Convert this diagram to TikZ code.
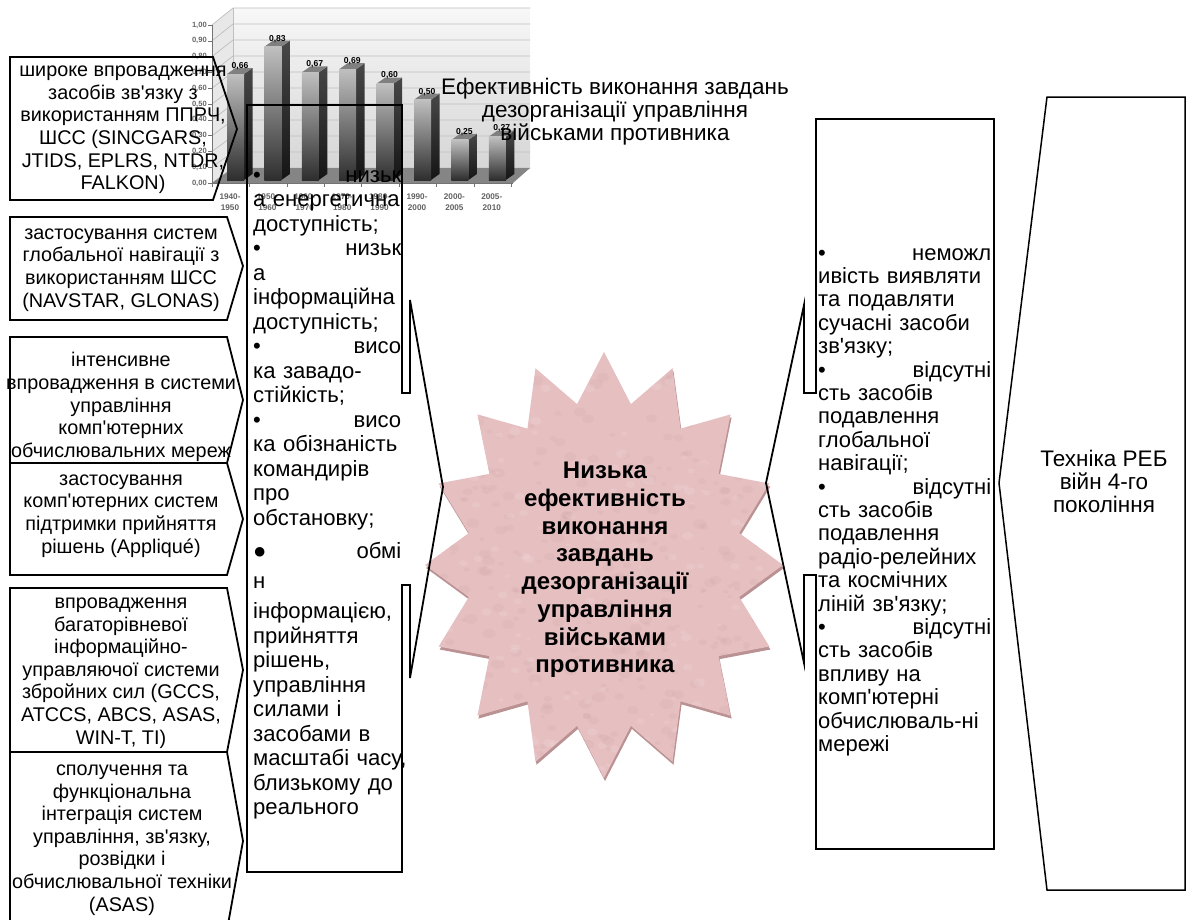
\documentclass[tikz,border=0pt]{standalone}
\usepackage{fontspec}
\setmainfont{Liberation Sans}
\newcommand\apos{\textquotesingle}
\setlength{\parindent}{0pt}
\hyphenpenalty=10000
\definecolor{starpink}{RGB}{230,191,193}
\definecolor{starshade}{RGB}{186,146,148}
\definecolor{starspot}{RGB}{196,154,158}
\begin{document}
\begin{tikzpicture}[x=1pt,y=-1pt,
  box/.style={draw=black, line width=1.8pt, line join=miter},
  thinbox/.style={draw=black, line width=1.5pt, line join=miter},
  boxtext/.style={align=center, font=\fontsize{19.8}{22.6}\selectfont, inner sep=0pt},
  coltext/.style={align=left, inner sep=0pt, anchor=north west},
  gridc/.style={draw=black!25, line width=0.7pt},
  ylab/.style={font=\bfseries\fontsize{7.6}{7.6}\selectfont, text=black!60, anchor=east, inner sep=0pt},
  xlab/.style={font=\bfseries\fontsize{8.2}{11}\selectfont, text=black!62, align=center, inner sep=0pt},
  vlab/.style={font=\bfseries\fontsize{8.6}{9}\selectfont, inner sep=0pt},
]
\useasboundingbox (0,0) rectangle (1192,919);
\clip (0,0) rectangle (1192,919);

% ---------- bar chart ----------
\shade[top color=black!3, bottom color=black!16] (233,8) rectangle (530,168);
\fill[black!9] (212,25) -- (233,8) -- (233,168) -- (212,183) -- cycle;
\foreach \k/\lab in {0/{0,00},1/{0,10},2/{0,20},3/{0,30},4/{0,40},5/{0,50},6/{0,60},7/{0,70},8/{0,80},9/{0,90},10/{1,00}} {
  \draw[gridc] (212,{183-15.8*\k}) -- (233,{168-16*\k}) -- (530,{168-16*\k});
  \draw[black!55] (208,{183-15.8*\k}) -- (212,{183-15.8*\k});
  \node[ylab] (yl\k) at (207,{183-15.8*\k}) {\lab};
}
\draw[gridc] (233,8) -- (233,168);
\fill[black!48] (212,183) -- (233,168) -- (530,168) -- (513,183) -- cycle;
\draw[black!55] (212,25) -- (212,183) -- (513,183);
\foreach \k in {0,...,8} \draw[black!55] ({212+37.4*\k},183) -- ({212+37.4*\k},187);
\foreach \i/\v/\lab/\ya/\yb in {0/0.66/{0,66}/1940/1950, 1/0.83/{0,83}/1950/1960, 2/0.67/{0,67}/1960/1970, 3/0.69/{0,69}/1970/1980, 4/0.60/{0,60}/1980/1990, 5/0.50/{0,50}/1990/2000, 6/0.25/{0,25}/2000/2005, 7/0.27/{0,27}/2005/2010} {
  \pgfmathsetmacro\xa{227+37.4*\i}
  \pgfmathsetmacro\xb{\xa+17}
  \pgfmathsetmacro\yt{180-160.6*\v}
  \shade[top color=black!72, bottom color=black!92] (\xb,180) -- (\xb,\yt) -- (\xb+8.5,\yt-6) -- (\xb+8.5,174) -- cycle;
  \fill[black!50] (\xa,\yt) -- (\xa+8.5,\yt-6) -- (\xb+8.5,\yt-6) -- (\xb,\yt) -- cycle;
  \shade[top color=black!25, bottom color=black!82] (\xa,\yt) rectangle (\xb,180);
  \node[vlab] (bv\i) at (\xa+13,\yt-8) {\lab};
  \node[xlab] (cl\i) at ({230+37.4*\i},202.5) {\ya-\\\yb};
}

% ---------- star ----------
\fill[starshade] ({604+1},{352+3})
  \foreach \k in {1,...,31} { -- ({604+1+179*(1-0.23*mod(\k,2))*cos(90+11.25*\k)}, {565+3-213*(1-0.23*mod(\k,2))*sin(90+11.25*\k)}) } -- cycle;
\begin{scope}
  \clip (604,352)
    \foreach \k in {1,...,31} { -- ({604+179*(1-0.23*mod(\k,2))*cos(90+11.25*\k)}, {565-213*(1-0.23*mod(\k,2))*sin(90+11.25*\k)}) } -- cycle;
  \fill[starpink] (420,340) rectangle (790,790);
  % fine mottled surface
  \pgfmathsetseed{17}
  \foreach \n in {1,...,420} {
    \pgfmathsetmacro\px{425+360*rnd}
    \pgfmathsetmacro\py{350+430*rnd}
    \pgfmathsetmacro\pr{2+5*rnd}
    \fill[starspot, opacity=0.13] (\px,\py) ellipse ({\pr} and {0.7*\pr});
  }
  \foreach \n in {1,...,200} {
    \pgfmathsetmacro\px{425+360*rnd}
    \pgfmathsetmacro\py{350+430*rnd}
    \pgfmathsetmacro\pr{2+4*rnd}
    \fill[white, opacity=0.10] (\px,\py) ellipse ({\pr} and {0.7*\pr});
  }
\end{scope}
\node[align=center, inner sep=0pt, font=\bfseries\fontsize{24}{27.7}\selectfont] (core) at (605,570)
  {Низька\\ефективність\\виконання\\завдань\\дезорганізації\\управління\\військами\\противника};

% ---------- title ----------
\node[align=center, inner sep=0pt, font=\fontsize{22.5}{23.2}\selectfont] (title) at (615,111.5)
  {Ефективність виконання завдань\\дезорганізації управління\\військами противника};

% ---------- left arrow boxes ----------
\draw[box] (10,57) -- (213,57) -- (237,129) -- (213,200) -- (10,200) -- cycle;
\draw[box] (10,217) -- (227,217) -- (243,266) -- (227,320) -- (10,320) -- cycle;
\draw[box] (10,337) -- (227,337) -- (243,400) -- (227,463) -- (10,463) -- cycle;
\draw[box] (10,463) -- (227,463) -- (243,519) -- (227,575) -- (10,575) -- cycle;
\draw[box] (10,588) -- (227,588) -- (243,670) -- (227,752) -- (10,752) -- cycle;
\draw[box] (10,752) -- (227,752) -- (243,841) -- (227,930) -- (10,930) -- cycle;

\node[boxtext] (a1) at (123,130) {широке впровадження\\засобів зв\apos язку з\\використанням ППРЧ,\\ШСС (SINCGARS,\\JTIDS, EPLRS, NTDR,\\FALKON)};
\node[boxtext] (a2) at (121,270) {застосування систем\\глобальної навігації з\\використанням ШСС\\(NAVSTAR, GLONAS)};
\node[boxtext] (a3) at (121,407) {інтенсивне\\впровадження в системи\\управління\\комп\apos ютерних\\обчислювальних мереж};
\node[boxtext] (a4) at (121,516) {застосування\\комп\apos ютерних систем\\підтримки прийняття\\рішень (Appliqué)};
\node[boxtext] (a5) at (121,673) {впровадження\\багаторівневої\\інформаційно-\\управляючої системи\\збройних сил (GCCS,\\ATCCS, ABCS, ASAS,\\WIN-T, TI)};
\node[boxtext] (a6) at (122,840) {сполучення та\\функціональна\\інтеграція систем\\управління, зв\apos язку,\\розвідки і\\обчислювальної техніки\\(ASAS)};

% ---------- middle column with callout ----------
\draw[box] (247,105) -- (402,105) -- (402,393) -- (410,393) -- (410,300) -- (443,487) -- (410,678) -- (410,585) -- (402,585) -- (402,872) -- (247,872) -- cycle;
\node[coltext, text width=148pt, font=\fontsize{22.1}{24.5}\selectfont] (mid) at (253,170)
  {•\hfill низьк\\
   \mbox{а енергетична}\\
   доступність;\\
   •\hfill низьк\\
   а\\
   інформаційна\\
   доступність;\\
   •\hfill висо\\
   ка завадо-\\
   стійкість;\\
   •\hfill висо\\
   \mbox{ка обізнаність}\\
   командирів\\
   про\\
   обстановку;\\[9pt]
   ●\hfill обмі\\[5pt]
   н\\[6pt]
   інформацією,\\
   прийняття\\
   рішень,\\
   управління\\
   силами і\\
   засобами в\\
   \mbox{масштабі часу,}\\
   \mbox{близькому до}\\
   реального};

% ---------- right column with callout ----------
\draw[box] (816,119) -- (994,119) -- (994,849) -- (816,849) -- (816,575) -- (804,575) -- (804,663) -- (766,483) -- (804,305) -- (804,393) -- (816,393) -- cycle;
\node[coltext, text width=173pt, font=\fontsize{22}{23.4}\selectfont] (right) at (818,248)
  {•\hfill неможл\\
   \mbox{ивість виявляти}\\
   та подавляти\\
   \mbox{сучасні засоби}\\
   зв\apos язку;\\
   •\hfill відсутні\\
   сть засобів\\
   подавлення\\
   глобальної\\
   навігації;\\
   •\hfill відсутні\\
   сть засобів\\
   подавлення\\
   \mbox{радіо-релейних}\\
   та космічних\\
   \mbox{ліній зв\apos язку;}\\
   •\hfill відсутні\\
   сть засобів\\
   впливу на\\
   комп\apos ютерні\\
   \mbox{обчислюваль-ні}\\
   мережі};

% ---------- right pentagon ----------
\draw[thinbox] (1047,97) -- (1185,97) -- (1185,890) -- (1047,890) -- (999,483) -- cycle;
\node[align=center, inner sep=0pt, font=\fontsize{22.5}{23}\selectfont] (reb) at (1104,481)
  {Техніка РЕБ\\війн 4-го\\покоління};
\end{tikzpicture}
\end{document}
